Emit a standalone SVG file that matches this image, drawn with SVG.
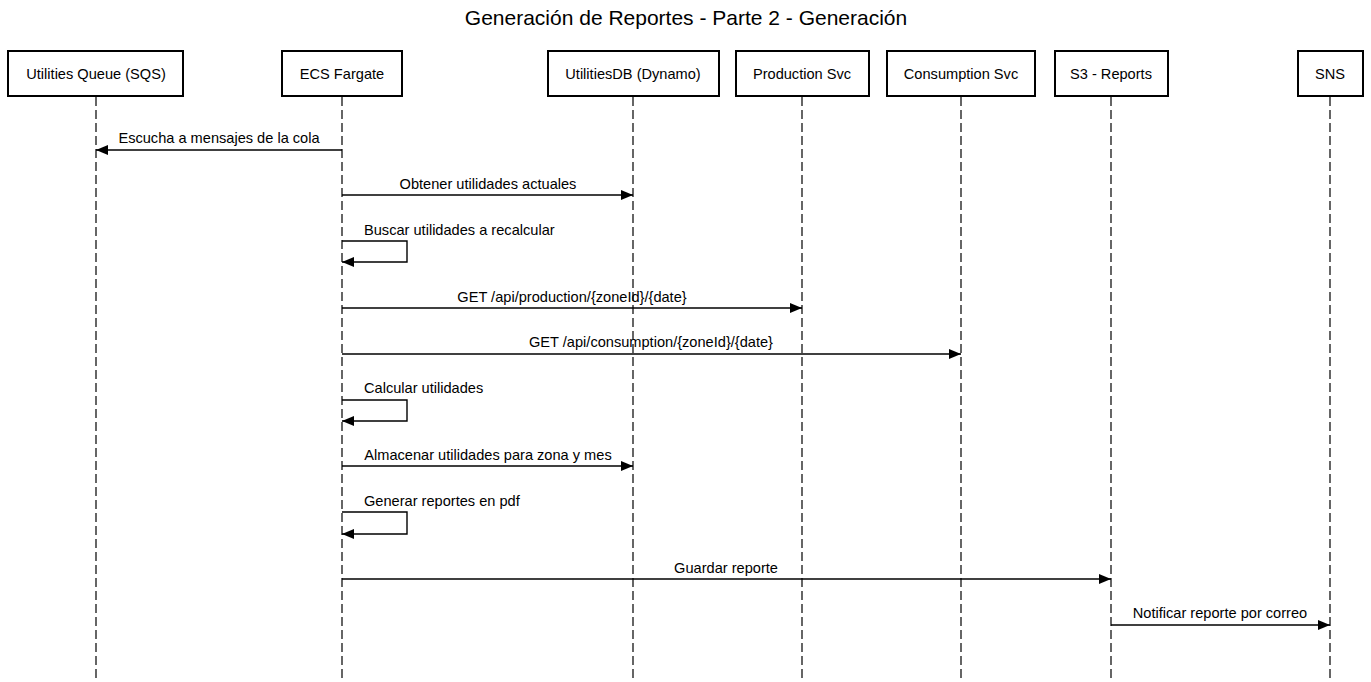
<svg xmlns="http://www.w3.org/2000/svg" width="1371" height="682" viewBox="0 0 1371 682">
<style>
text{font-family:"Liberation Sans",Arial,sans-serif;fill:#000}
.t{font-size:21px;text-anchor:middle}
.a{font-size:14.6px;text-anchor:middle;dominant-baseline:central}
.m{font-size:14.6px;text-anchor:middle}
.s{font-size:14.6px;text-anchor:start}
.box{fill:#fff;stroke:#000;stroke-width:2}
.life{stroke:#000;stroke-width:1.2;stroke-dasharray:9,4;fill:none}
.msg{stroke:#000;stroke-width:1.4;fill:none}
</style>
<defs>
<marker id="ah" viewBox="0 0 12 10" refX="12" refY="5" markerWidth="12" markerHeight="10" markerUnits="userSpaceOnUse" orient="auto">
<path d="M0,0 L12,5 L0,10 Z" fill="#000"/>
</marker>
</defs>
<rect width="1371" height="682" fill="#fff"/>
<text class="t" x="686" y="25">Generación de Reportes - Parte 2 - Generación</text>
<g id="lifelines">
<line class="life" x1="96" y1="97" x2="96" y2="682"/>
<line class="life" x1="342" y1="97" x2="342" y2="682"/>
<line class="life" x1="633" y1="97" x2="633" y2="682"/>
<line class="life" x1="802" y1="97" x2="802" y2="682"/>
<line class="life" x1="961" y1="97" x2="961" y2="682"/>
<line class="life" x1="1111" y1="97" x2="1111" y2="682"/>
<line class="life" x1="1330" y1="97" x2="1330" y2="682"/>
</g>
<g id="sqs"><rect class="box" x="8" y="51" width="175" height="45"/><text class="a" x="96" y="74">Utilities Queue (SQS)</text></g>
<g id="ecs"><rect class="box" x="282" y="51" width="120" height="45"/><text class="a" x="342" y="74">ECS Fargate</text></g>
<g id="db"><rect class="box" x="548" y="51" width="171" height="45"/><text class="a" x="633" y="74">UtilitiesDB (Dynamo)</text></g>
<g id="prod"><rect class="box" x="736" y="51" width="133" height="45"/><text class="a" x="802" y="74">Production Svc</text></g>
<g id="cons"><rect class="box" x="887" y="51" width="148" height="45"/><text class="a" x="961" y="74">Consumption Svc</text></g>
<g id="s3"><rect class="box" x="1055" y="51" width="113" height="45"/><text class="a" x="1111" y="74">S3 - Reports</text></g>
<g id="sns"><rect class="box" x="1298" y="51" width="65" height="45"/><text class="a" x="1330" y="74">SNS</text></g>
<g id="connectors">
<line class="msg" x1="342" y1="150" x2="96" y2="150" marker-end="url(#ah)"/>
<text class="m" x="219" y="143">Escucha a mensajes de la cola</text>
<line class="msg" x1="342" y1="195" x2="633" y2="195" marker-end="url(#ah)"/>
<text class="m" x="488" y="189">Obtener utilidades actuales</text>
<path class="msg" d="M342,241 H407 V262 H342" marker-end="url(#ah)"/>
<text class="s" x="364" y="235">Buscar utilidades a recalcular</text>
<line class="msg" x1="342" y1="308" x2="802" y2="308" marker-end="url(#ah)"/>
<text class="m" x="572" y="302">GET /api/production/{zoneId}/{date}</text>
<line class="msg" x1="342" y1="354" x2="961" y2="354" marker-end="url(#ah)"/>
<text class="m" x="651" y="347">GET /api/consumption/{zoneId}/{date}</text>
<path class="msg" d="M342,400 H407 V421 H342" marker-end="url(#ah)"/>
<text class="s" x="364" y="393">Calcular utilidades</text>
<line class="msg" x1="342" y1="466" x2="633" y2="466" marker-end="url(#ah)"/>
<text class="m" x="488" y="460">Almacenar utilidades para zona y mes</text>
<path class="msg" d="M342,512 H407 V534 H342" marker-end="url(#ah)"/>
<text class="s" x="364" y="506">Generar reportes en pdf</text>
<line class="msg" x1="342" y1="579" x2="1111" y2="579" marker-end="url(#ah)"/>
<text class="m" x="726" y="573">Guardar reporte</text>
<line class="msg" x1="1111" y1="625" x2="1330" y2="625" marker-end="url(#ah)"/>
<text class="m" x="1220" y="618">Notificar reporte por correo</text>
</g>
</svg>
